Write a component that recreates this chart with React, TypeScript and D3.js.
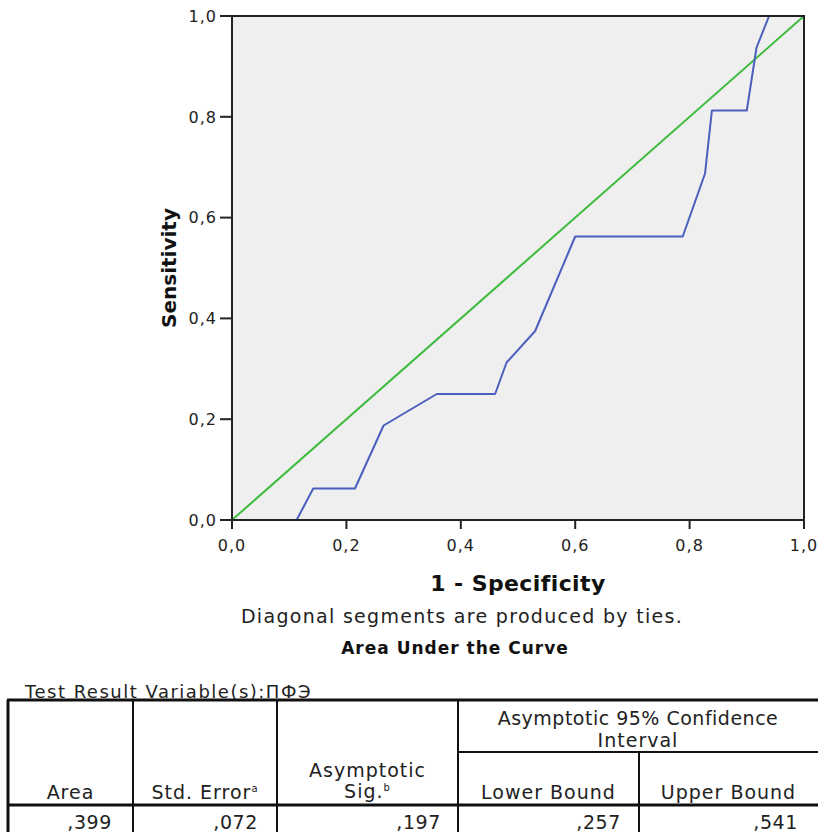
import React from "react";
import * as d3 from "d3";

// ROC curve points (1 - specificity, sensitivity)
const fpr = [0, 0.113, 0.142, 0.215, 0.265, 0.358, 0.46, 0.48, 0.53, 0.6, 0.788, 0.827, 0.839, 0.9, 0.917, 0.939, 1];
const tpr = [0, 0, 0.0625, 0.0625, 0.1875, 0.25, 0.25, 0.3125, 0.375, 0.5625, 0.5625, 0.6875, 0.8125, 0.8125, 0.9375, 1, 1];
const refLine = [0, 1];
const tickValues = [0, 0.2, 0.4, 0.6, 0.8, 1];

// table
const tableVariable = "Test Result Variable(s):ПФЭ";
const aucValues = [",399", ",072", ",197", ",257", ",541"];

const FONT = "'DejaVu Sans', sans-serif";

export default function App() {
  const width = 818;
  const height = 832;
  const left = 232, right = 804, top = 16, bottom = 520;

  const x = d3.scaleLinear().domain([0, 1]).range([left, right]);
  const y = d3.scaleLinear().domain([0, 1]).range([bottom, top]);
  const fmt = (v: number) => d3.format(".1f")(v).replace(".", ",");

  const roc = fpr.map((f, i) => [f, tpr[i]] as [number, number]);
  const line = d3.line<[number, number]>().x((d) => x(d[0])).y((d) => y(d[1]));
  const diag = refLine.map((v) => [v, v] as [number, number]);

  // table layout
  const cols = [8, 133, 277, 458, 639, 818];
  const tTop = 700, tMid = 752, tHead = 805;
  const valRight = [112, 258, 441, 621, 798];

  return (
    <svg
      width={width}
      height={height}
      style={{ position: "absolute", left: 0, top: 0, background: "#fff" }}
      fontFamily={FONT}
    >
      {/* plot area */}
      <rect x={left} y={top} width={right - left} height={bottom - top} fill="#efefef" />

      <path d={line(diag) || ""} fill="none" stroke="#3dbb3d" strokeWidth={2} />
      <path d={line(roc) || ""} fill="none" stroke="#4b5fbe" strokeWidth={2} strokeLinejoin="round" />

      <rect x={left} y={top} width={right - left} height={bottom - top} fill="none" stroke="#222" strokeWidth={2} />

      {/* y axis */}
      {tickValues.map((t) => (
        <g key={"y" + t}>
          <line x1={left - 12} x2={left} y1={y(t)} y2={y(t)} stroke="#222" strokeWidth={2} />
          <text x={left - 15} y={y(t)} dy="0.36em" textAnchor="end" fontSize={16} fill="#222" letterSpacing={1}>
            {fmt(t)}
          </text>
        </g>
      ))}
      {/* x axis */}
      {tickValues.map((t) => (
        <g key={"x" + t}>
          <line x1={x(t)} x2={x(t)} y1={bottom} y2={bottom + 9} stroke="#222" strokeWidth={2} />
          <text x={x(t)} y={551} textAnchor="middle" fontSize={16} fill="#222" letterSpacing={1}>
            {fmt(t)}
          </text>
        </g>
      ))}

      <text
        transform={`translate(176, 268) rotate(-90)`}
        textAnchor="middle"
        fontSize={20}
        fontWeight="bold"
        fill="#111"
      >
        Sensitivity
      </text>
      <text x={518} y={591} textAnchor="middle" fontSize={22} fontWeight="bold" fill="#111" letterSpacing={0.4}>
        1 - Specificity
      </text>
      <text x={462} y={623} textAnchor="middle" fontSize={19} fill="#222" letterSpacing={1.3}>
        Diagonal segments are produced by ties.
      </text>
      <text x={455} y={654} textAnchor="middle" fontSize={17} fontWeight="bold" fill="#111" letterSpacing={1}>
        Area Under the Curve
      </text>

      {/* table */}
      <text x={25} y={698} fontSize={18} fill="#222" letterSpacing={1.5}>
        {tableVariable}
      </text>
      <line x1={cols[0] - 1} x2={width} y1={tTop} y2={tTop} stroke="#111" strokeWidth={3} />
      <line x1={cols[0] - 1} x2={width} y1={tHead} y2={tHead} stroke="#111" strokeWidth={3} />
      <line x1={cols[3]} x2={width} y1={tMid} y2={tMid} stroke="#111" strokeWidth={2} />
      {cols.slice(0, 5).map((c, i) => (
        <line
          key={"c" + i}
          x1={c}
          x2={c}
          y1={i === 4 ? tMid : tTop}
          y2={height}
          stroke="#111"
          strokeWidth={i === 0 ? 3 : 2}
        />
      ))}

      <g fontSize={19} fill="#222" letterSpacing={1} textAnchor="middle">
        <text x={(cols[0] + cols[1]) / 2} y={799}>Area</text>
        <text x={(cols[1] + cols[2]) / 2} y={799}>
          Std. Error<tspan fontSize={10} dy={-7}>a</tspan>
        </text>
        <text x={(cols[2] + cols[3]) / 2} y={777}>Asymptotic</text>
        <text x={(cols[2] + cols[3]) / 2} y={798}>
          Sig.<tspan fontSize={10} dy={-7}>b</tspan>
        </text>
        <text x={(cols[3] + cols[5]) / 2} y={725} letterSpacing={0.5}>Asymptotic 95% Confidence</text>
        <text x={(cols[3] + cols[5]) / 2} y={747}>Interval</text>
        <text x={(cols[3] + cols[4]) / 2} y={799}>Lower Bound</text>
        <text x={(cols[4] + cols[5]) / 2} y={799}>Upper Bound</text>
      </g>
      <g fontSize={19} fill="#222" letterSpacing={0.6} textAnchor="end">
        {aucValues.map((v, i) => (
          <text key={"v" + i} x={valRight[i]} y={829}>
            {v}
          </text>
        ))}
      </g>
    </svg>
  );
}
